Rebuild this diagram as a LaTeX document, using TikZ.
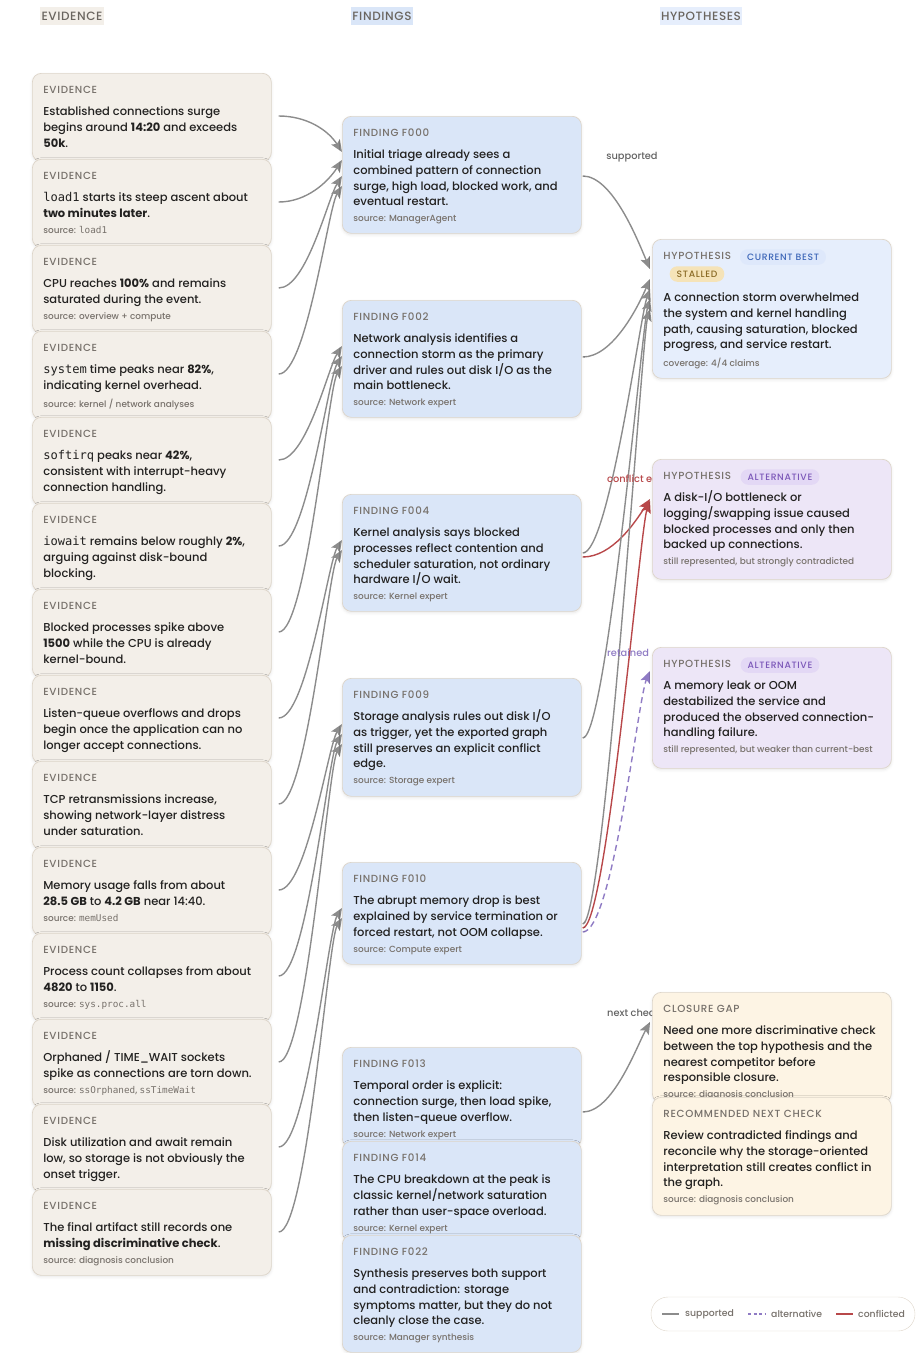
\documentclass[tikz,border=0pt]{standalone}
\usepackage{fontspec}
\setmainfont{Poppins}[UprightFont=* Medium, BoldFont=* Bold]
\setmonofont{DejaVu Sans Mono}[Scale=1.05]
\usetikzlibrary{positioning,arrows.meta,shadows.blur}

\definecolor{evfill}{HTML}{F3EFE9}
\definecolor{fdfill}{HTML}{DAE6F8}
\definecolor{hyfill}{HTML}{E6EEFC}
\definecolor{altfill}{HTML}{EDE6F7}
\definecolor{gapfill}{HTML}{FDF4E4}
\definecolor{cardline}{HTML}{DDD5C9}
\definecolor{ink}{HTML}{222120}
\definecolor{muted}{HTML}{77716B}
\definecolor{headgray}{HTML}{6A655F}
\definecolor{supgray}{HTML}{8C8C8C}
\definecolor{conred}{HTML}{B8484A}
\definecolor{altpurple}{HTML}{8F7BC4}
\definecolor{bestpill}{HTML}{DEE8FB}
\definecolor{besttext}{HTML}{3D66B8}
\definecolor{stallpill}{HTML}{F5E3B8}
\definecolor{stalltext}{HTML}{8A6A25}
\definecolor{altpill}{HTML}{E3D8F5}
\definecolor{alttext}{HTML}{7B57B8}

\pgfdeclarelayer{edges}
\pgfsetlayers{edges,main}

\newcommand{\kindfont}{\fontsize{10.3}{11}\selectfont\addfontfeature{LetterSpace=7}\color{muted}}
\newcommand{\bodyfont}{\fontsize{11.5}{15.7}\selectfont\color{ink}}
\newcommand{\srcfont}{\fontsize{8.9}{11}\selectfont\color{muted}}
% height, gap, kind, body, source
\newcommand{\cardtext}[5]{\parbox[c][#1][t]{239pt}{\raggedright\leftskip=11pt
  \rule{0pt}{20pt}{\kindfont #3\par}\vspace{#2}{\bodyfont #4\par}\vspace{5pt}{\srcfont #5\par}}}

\begin{document}
\begin{tikzpicture}[
    x=1pt, y=-1pt,
    card/.style={draw=cardline, line width=0.7pt, rounded corners=9pt, inner sep=0pt, anchor=north west,
        blur shadow={shadow blur steps=6, shadow xshift=0pt, shadow yshift=-1.5pt, shadow opacity=10, shadow blur radius=3pt}},
    ev/.style={card, fill=evfill},
    fd/.style={card, fill=fdfill},
    hy/.style={card, fill=hyfill},
    alt/.style={card, fill=altfill},
    gap/.style={card, fill=gapfill},
    colhead/.style={inner xsep=1.5pt, minimum height=18pt, text=headgray, font=\fontsize{12}{13}\selectfont\addfontfeature{LetterSpace=5}},
    pill/.style={rounded corners=7.5pt, minimum height=15.5pt, inner xsep=7pt, inner ysep=0pt, font=\fontsize{9.2}{10}\selectfont\addfontfeature{LetterSpace=7}},
    elabel/.style={inner sep=1pt, font=\fontsize{9.8}{11}\selectfont},
    keytext/.style={inner sep=1pt, text=muted, font=\fontsize{9.3}{11}\selectfont},
    tip/.style={-{Stealth[length=12pt,width=10pt,inset=2.5pt]}},
    sup/.style={tip, draw=supgray, line width=1.4pt},
    con/.style={tip, draw=conred, line width=1.4pt},
    altedge/.style={tip, draw=altpurple, line width=1.4pt, dash pattern=on 6pt off 4pt}
]
\useasboundingbox (0,0) rectangle (919,1353);

% column heads
\node[colhead, fill=evfill] (hev) at (72,16) {EVIDENCE};
\node[colhead, fill=fdfill] (hfd) at (382,16) {FINDINGS};
\node[colhead, fill=hyfill] (hhy) at (701,16) {HYPOTHESES};

% evidence
\node[ev] (e1) at (32,73) {\cardtext{88pt}{6.8pt}{EVIDENCE}{Established connections surge\\ begins around \textbf{14:20} and exceeds\\ \textbf{50k}.}{}};
\node[ev] (e2) at (32,159) {\cardtext{88pt}{6.8pt}{EVIDENCE}{\texttt{load1} starts its steep ascent about\\ \textbf{two minutes later}.}{source: \texttt{load1}}};
\node[ev] (e3) at (32,245) {\cardtext{88pt}{6.8pt}{EVIDENCE}{CPU reaches \textbf{100\%} and remains\\ saturated during the event.}{source: overview + compute}};
\node[ev] (e4) at (32,331) {\cardtext{88pt}{6.8pt}{EVIDENCE}{\texttt{system} time peaks near \textbf{82\%},\\ indicating kernel overhead.}{source: kernel / network analyses}};
\node[ev] (e5) at (32,417) {\cardtext{88pt}{6.8pt}{EVIDENCE}{\texttt{softirq} peaks near \textbf{42\%},\\ consistent with interrupt-heavy\\ connection handling.}{}};
\node[ev] (e6) at (32,503) {\cardtext{88pt}{6.8pt}{EVIDENCE}{\texttt{iowait} remains below roughly \textbf{2\%},\\ arguing against disk-bound\\ blocking.}{}};
\node[ev] (e7) at (32,589) {\cardtext{88pt}{6.8pt}{EVIDENCE}{Blocked processes spike above\\ \textbf{1500} while the CPU is already\\ kernel-bound.}{}};
\node[ev] (e8) at (32,675) {\cardtext{88pt}{6.8pt}{EVIDENCE}{Listen-queue overflows and drops\\ begin once the application can no\\ longer accept connections.}{}};
\node[ev] (e9) at (32,761) {\cardtext{88pt}{6.8pt}{EVIDENCE}{TCP retransmissions increase,\\ showing network-layer distress\\ under saturation.}{}};
\node[ev] (e10) at (32,847) {\cardtext{88pt}{6.8pt}{EVIDENCE}{Memory usage falls from about\\ \textbf{28.5 GB} to \textbf{4.2 GB} near 14:40.}{source: \texttt{memUsed}}};
\node[ev] (e11) at (32,933) {\cardtext{88pt}{6.8pt}{EVIDENCE}{Process count collapses from about\\ \textbf{4820} to \textbf{1150}.}{source: \texttt{sys.proc.all}}};
\node[ev] (e12) at (32,1019) {\cardtext{88pt}{6.8pt}{EVIDENCE}{Orphaned / TIME\_WAIT sockets\\ spike as connections are torn down.}{source: \texttt{ssOrphaned}, \texttt{ssTimeWait}}};
\node[ev] (e13) at (32,1104) {\cardtext{88pt}{6.8pt}{EVIDENCE}{Disk utilization and await remain\\ low, so storage is not obviously the\\ onset trigger.}{}};
\node[ev] (e14) at (32,1189) {\cardtext{86pt}{6.8pt}{EVIDENCE}{The final artifact still records one\\ \textbf{missing discriminative check}.}{source: diagnosis conclusion}};

% findings
\node[fd] (f0) at (342,116) {\cardtext{117pt}{6.8pt}{FINDING F000}{Initial triage already sees a\\ combined pattern of connection\\ surge, high load, blocked work, and\\ eventual restart.}{source: ManagerAgent}};
\node[fd] (f2) at (342,300) {\cardtext{117pt}{6.8pt}{FINDING F002}{Network analysis identifies a\\ connection storm as the primary\\ driver and rules out disk I/O as the\\ main bottleneck.}{source: Network expert}};
\node[fd] (f4) at (342,494) {\cardtext{117pt}{6.8pt}{FINDING F004}{Kernel analysis says blocked\\ processes reflect contention and\\ scheduler saturation, not ordinary\\ hardware I/O wait.}{source: Kernel expert}};
\node[fd] (f9) at (342,678) {\cardtext{118pt}{6.8pt}{FINDING F009}{Storage analysis rules out disk I/O\\ as trigger, yet the exported graph\\ still preserves an explicit conflict\\ edge.}{source: Storage expert}};
\node[fd] (f10) at (342,862) {\cardtext{102pt}{6.8pt}{FINDING F010}{The abrupt memory drop is best\\ explained by service termination or\\ forced restart, not OOM collapse.}{source: Compute expert}};
\node[fd] (f13) at (342,1047) {\cardtext{100pt}{6.8pt}{FINDING F013}{Temporal order is explicit:\\ connection surge, then load spike,\\ then listen-queue overflow.}{source: Network expert}};
\node[fd] (f14) at (342,1141) {\cardtext{100pt}{6.8pt}{FINDING F014}{The CPU breakdown at the peak is\\ classic kernel/network saturation\\ rather than user-space overload.}{source: Kernel expert}};
\node[fd] (f22) at (342,1235) {\cardtext{117pt}{6.8pt}{FINDING F022}{Synthesis preserves both support\\ and contradiction: storage\\ symptoms matter, but they do not\\ cleanly close the case.}{source: Manager synthesis}};

% hypotheses
\node[hy] (h1) at (652,239) {\cardtext{139pt}{26.8pt}{HYPOTHESIS}{A connection storm overwhelmed\\ the system and kernel handling\\ path, causing saturation, blocked\\ progress, and service restart.}{coverage: 4/4 claims}};
\node[pill, fill=bestpill, text=besttext] (h1best) at (783,257) {CURRENT BEST};
\node[pill, fill=stallpill, text=stalltext] (h1stall) at (697,274) {STALLED};
\node[alt] (h2) at (652,459) {\cardtext{120pt}{6.8pt}{HYPOTHESIS}{A disk-I/O bottleneck or\\ logging/swapping issue caused\\ blocked processes and only then\\ backed up connections.}{still represented, but strongly contradicted}};
\node[pill, fill=altpill, text=alttext] (h2alt) at (780,477) {ALTERNATIVE};
\node[alt] (h3) at (652,647) {\cardtext{121pt}{6.8pt}{HYPOTHESIS}{A memory leak or OOM\\ destabilized the service and\\ produced the observed connection-\\ handling failure.}{still represented, but weaker than current-best}};
\node[pill, fill=altpill, text=alttext] (h3alt) at (780,665) {ALTERNATIVE};
\node[gap] (cg) at (652,992) {\cardtext{110pt}{6.8pt}{CLOSURE GAP}{Need one more discriminative check\\ between the top hypothesis and the\\ nearest competitor before\\ responsible closure.}{source: diagnosis conclusion}};
\node[gap] (rn) at (652,1097) {\cardtext{118pt}{6.8pt}{RECOMMENDED NEXT CHECK}{Review contradicted findings and\\ reconcile why the storage-oriented\\ interpretation still creates conflict in\\ the graph.}{source: diagnosis conclusion}};

% links
\begin{pgfonlayer}{edges}
\foreach \e/\f/\dy/\c in {e1/f0/36/-22, e2/f0/44/22, e3/f0/60/22, e4/f0/70/22,
    e5/f2/46/22, e6/f2/56/22, e7/f2/66/22, e8/f4/46/22, e9/f4/56/22,
    e10/f9/46/22, e11/f9/56/22, e12/f9/66/22, e13/f10/46/22, e14/f10/56/22}
  \draw[sup] ([shift={(7,43)}]\e.north east) .. controls +(28,0) and +(-14,\c) .. ([shift={(0,\dy)}]\f.north west);

\draw[sup] ([shift={(1,60)}]f0.north east) .. controls +(30,0) and +(-12,-28) .. ([shift={(-2,30)}]h1.north west);
\draw[sup] ([shift={(1,57)}]f2.north east) .. controls +(30,0) and +(-12,28) .. ([shift={(-2,40)}]h1.north west);
\draw[sup] ([shift={(1,59)}]f4.north east) .. controls +(26,0) and +(-10,28) .. ([shift={(-2,50)}]h1.north west);
\draw[con] ([shift={(1,63)}]f4.north east) .. controls +(30,0) and +(-14,22) .. ([shift={(-2,40)}]h2.north west);
\draw[sup] ([shift={(1,60)}]f9.north east) .. controls +(24,0) and +(-8,28) .. ([shift={(-2,60)}]h1.north west);
\draw[sup] ([shift={(1,62)}]f10.north east) .. controls +(22,0) and +(-8,28) .. ([shift={(-2,70)}]h1.north west);
\draw[con] ([shift={(1,66)}]f10.north east) .. controls +(24,0) and +(-10,28) .. ([shift={(-2,42)}]h2.north west);
\draw[altedge] ([shift={(1,70)}]f10.north east) .. controls +(30,0) and +(-12,28) .. ([shift={(-2,24)}]h3.north west);
\draw[sup] ([shift={(1,65)}]f13.north east) .. controls +(30,0) and +(-14,26) .. ([shift={(-2,30)}]cg.north west);

\node[elabel, text=supgray!70!black] (lsup) at (632,157) {supported};
\node[elabel, text=conred, anchor=west] (lcon) at (606,480) {conflict edge};
\node[elabel, text=altpurple, anchor=west] (lret) at (606,653) {retained};
\node[elabel, text=supgray!70!black, anchor=west] (lnext) at (606,1013) {next check};
\end{pgfonlayer}

% legend
\node[draw=cardline, fill=white, rounded corners=17pt, minimum width=264pt, minimum height=34pt] (key) at (783,1314) {};
\draw[supgray, line width=1.4pt] (662,1314) -- (679,1314);
\node[keytext, anchor=west] (ksup) at (684,1314) {supported};
\draw[altpurple, line width=1.4pt, dash pattern=on 3pt off 2.5pt] (748,1314) -- (766,1314);
\node[keytext, anchor=west] (kalt) at (770,1314) {alternative};
\draw[conred, line width=1.4pt] (836,1314) -- (853,1314);
\node[keytext, anchor=west] (kcon) at (857,1314) {conflicted};

\end{tikzpicture}
\end{document}
